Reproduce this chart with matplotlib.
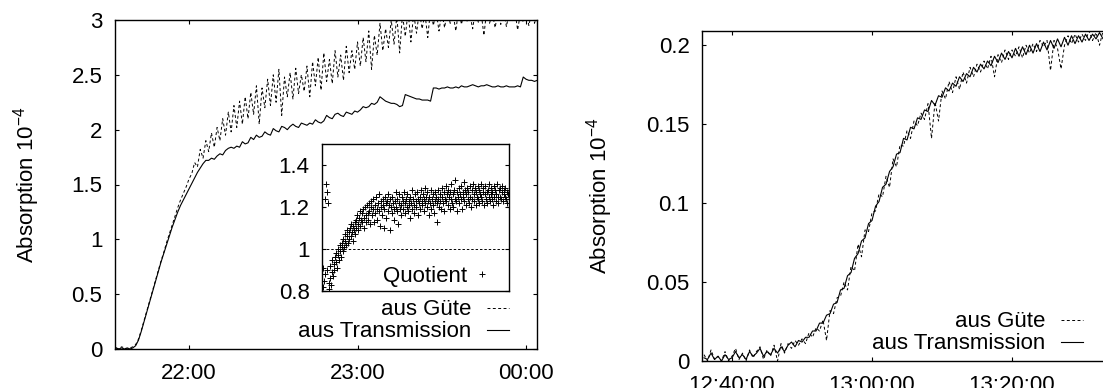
import numpy as np
import matplotlib.pyplot as plt
from matplotlib.ticker import FormatStrFormatter

plt.rcParams['font.family'] = ['Liberation Sans', 'DejaVu Sans']
plt.rcParams['font.size'] = 16
plt.rcParams['mathtext.fontset'] = 'custom'
plt.rcParams['mathtext.rm'] = 'Liberation Sans'
plt.rcParams['mathtext.it'] = 'Liberation Sans:italic'
plt.rcParams['mathtext.sf'] = 'Liberation Sans'
plt.rcParams['axes.linewidth'] = 1.0

# left plot: minutes after 21:00, one reading per minute (21:34 .. 00:04)
night_minutes = np.arange(34, 185)
night_guete = [
    0.01, 0.00, 0.02, 0.01, 0.00, 0.01, 0.02,
    0.04, 0.09, 0.17, 0.26, 0.35, 0.44, 0.53, 0.62, 0.71, 0.80,
    0.88, 0.97, 1.05, 1.13, 1.21, 1.29, 1.36, 1.42, 1.48, 1.55,
    1.60, 1.70, 1.66, 1.82, 1.74, 1.90, 1.80, 1.97, 1.84, 2.02,
    1.90, 2.10, 1.95, 2.16, 1.98, 2.22, 2.02, 2.26, 2.05, 2.30,
    2.10, 2.34, 2.14, 2.40, 2.05, 2.38, 2.20, 2.46, 2.22, 2.50,
    2.25, 2.55, 2.13, 2.48, 2.30, 2.52, 2.28, 2.56, 2.33, 2.50,
    2.35, 2.58, 2.30, 2.62, 2.40, 2.66, 2.36, 2.70, 2.44, 2.64,
    2.42, 2.72, 2.48, 2.68, 2.45, 2.76, 2.52, 2.72, 2.55, 2.80,
    2.58, 2.84, 2.62, 2.90, 2.55, 2.86, 2.68, 2.97, 2.72, 2.92,
    2.75, 3.00, 2.78, 3.04, 2.70, 3.05, 2.85, 3.08, 2.80, 3.06,
    2.88, 3.08, 2.92, 3.06, 2.84, 3.10, 2.95, 3.08, 2.90, 3.07,
    2.93, 3.09, 2.97, 3.06, 2.90, 3.10, 2.96, 3.08, 2.99, 3.05,
    2.92, 3.10, 2.98, 3.07, 2.86, 3.09, 2.97, 3.06, 2.93, 3.08,
    2.96, 3.10, 2.94, 3.07, 2.99, 3.09, 2.91, 3.06, 2.98, 3.08,
    2.95, 3.07, 2.97, 3.05,
]
night_trans = [
    0.01, 0.00, 0.01, 0.00, 0.01, 0.00, 0.01,
    0.03, 0.08, 0.16, 0.25, 0.34, 0.43, 0.52, 0.61, 0.70, 0.79,
    0.87, 0.95, 1.03, 1.11, 1.18, 1.25, 1.31, 1.36, 1.41, 1.46,
    1.51, 1.56, 1.61, 1.65, 1.69, 1.72, 1.72, 1.74, 1.73, 1.76,
    1.78, 1.77, 1.81, 1.83, 1.84, 1.83, 1.85, 1.84, 1.89, 1.87,
    1.88, 1.93, 1.91, 1.95, 1.93, 1.94, 1.98, 1.96, 1.95, 2.01,
    1.99, 1.98, 2.03, 2.02, 2.00, 2.03, 2.05, 2.03, 2.02, 2.06,
    2.05, 2.04, 2.06, 2.05, 2.09, 2.07, 2.06, 2.08, 2.13, 2.11,
    2.10, 2.14, 2.15, 2.13, 2.12, 2.16, 2.15, 2.14, 2.17, 2.16,
    2.18, 2.21, 2.20, 2.21, 2.24, 2.23, 2.25, 2.30, 2.28, 2.26,
    2.25, 2.24, 2.24, 2.23, 2.21, 2.22, 2.32, 2.31, 2.30, 2.29,
    2.28, 2.28, 2.27, 2.27, 2.27, 2.26, 2.38, 2.38, 2.37, 2.38,
    2.38, 2.39, 2.38, 2.38, 2.39, 2.38, 2.40, 2.39, 2.39, 2.40,
    2.41, 2.40, 2.39, 2.40, 2.40, 2.41, 2.40, 2.39, 2.39, 2.40,
    2.39, 2.39, 2.40, 2.39, 2.39, 2.39, 2.40, 2.39, 2.48, 2.46,
    2.45, 2.45, 2.44, 2.45,
]

# inset: quotient every 30 s from 21:41 to 00:04
quot_minutes = np.arange(41, 184.01, 0.5)
quotient = [
    0.82, 0.91, 0.85, 1.24, 0.88, 1.31, 1.27, 0.90, 1.22, 0.84,
    0.81, 0.86, 0.92, 0.83, 0.89, 0.95, 0.87, 0.93, 0.90, 0.96,
    0.94, 0.98, 0.91, 0.97, 1.00, 0.95, 0.99, 1.02, 0.96, 1.01,
    1.03, 0.99, 1.05, 1.01, 1.04, 1.07, 1.02, 1.06, 1.09, 1.03,
    1.08, 1.05, 1.10, 1.06, 1.12, 1.08, 1.04, 1.11, 1.09, 1.13,
    1.07, 1.14, 1.10, 1.16, 1.12, 1.09, 1.15, 1.18, 1.11, 1.14,
    1.17, 1.13, 1.19, 1.15, 1.10, 1.20, 1.16, 1.13, 1.21, 1.17,
    1.14, 1.22, 1.18, 1.12, 1.20, 1.23, 1.16, 1.19, 1.24, 1.13,
    1.21, 1.17, 1.25, 1.19, 1.14, 1.22, 1.26, 1.18, 1.11, 1.23,
    1.20, 1.16, 1.24, 1.21, 1.10, 1.19, 1.25, 1.22, 1.15, 1.23,
    1.18, 1.26, 1.21, 1.09, 1.24, 1.20, 1.17, 1.25, 1.22, 1.19,
    1.14, 1.23, 1.27, 1.20, 1.18, 1.24, 1.12, 1.22, 1.26, 1.19,
    1.21, 1.16, 1.25, 1.23, 1.19, 1.27, 1.22, 1.17, 1.24, 1.20,
    1.26, 1.18, 1.23, 1.21, 1.15, 1.25, 1.22, 1.28, 1.19, 1.24,
    1.21, 1.17, 1.26, 1.23, 1.20, 1.27, 1.16, 1.24, 1.22, 1.25,
    1.19, 1.28, 1.23, 1.21, 1.26, 1.18, 1.24, 1.29, 1.22, 1.25,
    1.20, 1.27, 1.23, 1.16, 1.25, 1.22, 1.28, 1.19, 1.24, 1.26,
    1.21, 1.17, 1.27, 1.23, 1.25, 1.13, 1.22, 1.28, 1.24, 1.20,
    1.26, 1.23, 1.19, 1.29, 1.25, 1.22, 1.27, 1.18, 1.24, 1.30,
    1.23, 1.26, 1.21, 1.28, 1.25, 1.19, 1.27, 1.24, 1.31, 1.22,
    1.26, 1.20, 1.28, 1.24, 1.33, 1.23, 1.27, 1.18, 1.25, 1.29,
    1.22, 1.26, 1.30, 1.24, 1.19, 1.27, 1.25, 1.32, 1.23, 1.28,
    1.21, 1.26, 1.29, 1.24, 1.27, 1.22, 1.30, 1.25, 1.20, 1.28,
    1.24, 1.31, 1.26, 1.23, 1.29, 1.21, 1.27, 1.25, 1.30, 1.24,
    1.28, 1.22, 1.26, 1.31, 1.25, 1.23, 1.29, 1.27, 1.21, 1.26,
    1.30, 1.24, 1.27, 1.22, 1.28, 1.25, 1.31, 1.23, 1.26, 1.29,
    1.24, 1.27, 1.21, 1.30, 1.25, 1.28, 1.23, 1.26, 1.31, 1.25,
    1.22, 1.28, 1.25, 1.29, 1.24, 1.27, 1.30, 1.23, 1.26, 1.28,
    1.25, 1.29, 1.24, 1.27, 1.22, 1.26, 1.28,
]

# right plot: minutes after 12:00, every 30 s (12:36 .. 13:34)
day_minutes = np.arange(36, 94.01, 0.5)
day_guete = [
    0.004, 0.000, 0.007, 0.001, 0.003, 0.000, 0.006, 0.000, 0.003, 0.008,
    0.001, 0.005, 0.000, 0.007, 0.002, 0.006, 0.009, 0.001, 0.007, 0.003,
    0.010, 0.000, 0.011, 0.005, 0.011, 0.008, 0.013, 0.010, 0.014, 0.011,
    0.018, 0.015, 0.021, 0.019, 0.026, 0.013, 0.032, 0.030, 0.040, 0.041,
    0.050, 0.045, 0.060, 0.057, 0.074, 0.066, 0.083, 0.082, 0.094, 0.095,
    0.106, 0.104, 0.117, 0.110, 0.128, 0.123, 0.137, 0.136, 0.146, 0.141,
    0.152, 0.149, 0.157, 0.153, 0.163, 0.141, 0.164, 0.152, 0.171, 0.166,
    0.177, 0.170, 0.180, 0.172, 0.183, 0.176, 0.186, 0.180, 0.188, 0.183,
    0.190, 0.185, 0.193, 0.180, 0.194, 0.189, 0.197, 0.191, 0.197, 0.193,
    0.199, 0.192, 0.200, 0.195, 0.201, 0.196, 0.203, 0.199, 0.203, 0.184,
    0.203, 0.198, 0.185, 0.200, 0.206, 0.201, 0.207, 0.202, 0.207, 0.203,
    0.209, 0.203, 0.208, 0.200, 0.209, 0.204, 0.209,
]
day_trans = [
    0.002, 0.001, 0.005, 0.001, 0.003, 0.000, 0.004, 0.001, 0.002, 0.006,
    0.002, 0.004, 0.001, 0.006, 0.003, 0.005, 0.008, 0.003, 0.006, 0.004,
    0.008, 0.005, 0.009, 0.006, 0.010, 0.012, 0.009, 0.013, 0.012, 0.015,
    0.015, 0.019, 0.019, 0.024, 0.024, 0.029, 0.030, 0.036, 0.037, 0.045,
    0.046, 0.054, 0.056, 0.065, 0.068, 0.076, 0.078, 0.087, 0.089, 0.098,
    0.101, 0.110, 0.112, 0.120, 0.123, 0.131, 0.132, 0.141, 0.140, 0.148,
    0.147, 0.154, 0.153, 0.159, 0.158, 0.165, 0.162, 0.168, 0.167, 0.173,
    0.171, 0.176, 0.174, 0.180, 0.177, 0.182, 0.180, 0.186, 0.183, 0.188,
    0.185, 0.190, 0.187, 0.193, 0.189, 0.195, 0.191, 0.196, 0.192, 0.198,
    0.193, 0.199, 0.194, 0.200, 0.195, 0.201, 0.196, 0.202, 0.197, 0.203,
    0.198, 0.204, 0.199, 0.205, 0.200, 0.206, 0.201, 0.206, 0.202, 0.207,
    0.203, 0.207, 0.204, 0.208, 0.204, 0.208, 0.205,
]

night_ticks = [60, 120, 180]
night_ticklabels = ['22:00', '23:00', '00:00']
day_ticks = [40, 60, 80]
day_ticklabels = ['12:40:00', '13:00:00', '13:20:00']

W, H = 1103, 388
fig = plt.figure(figsize=(W / 100, H / 100), dpi=100)


def box(x0, x1, y0, y1):
    # pixel box -> figure fraction
    return [x0 / W, 1 - y1 / H, (x1 - x0) / W, (y1 - y0) / H]


def style(ax):
    ax.tick_params(direction='in', length=3.2, width=0.8, top=True, right=True)
    ax.tick_params(axis='y', pad=9)
    ax.tick_params(axis='x', pad=10)
    ax.yaxis.set_major_formatter(FormatStrFormatter('%g'))


dash = (0, (3, 2.5))
leg_kw = dict(loc='lower right', frameon=False, markerfirst=False,
              handlelength=1.0, handletextpad=0.7, labelspacing=0.05,
              borderpad=0, borderaxespad=0)

# ---- left panel
ax1 = fig.add_axes(box(115, 537, 20, 349))
ax1.plot(night_minutes, night_guete, color='black', lw=0.7, ls=dash, label='aus Güte')
ax1.plot(night_minutes, night_trans, color='black', lw=0.8, label='aus Transmission')
ax1.set_xlim(33.65, 183.9)
ax1.set_ylim(0, 3)
ax1.set_xticks(night_ticks)
ax1.set_xticklabels(night_ticklabels)
ax1.set_yticks([0, 0.5, 1, 1.5, 2, 2.5, 3])
style(ax1)
ax1.legend(bbox_to_anchor=(0.934, 0.02), **leg_kw)

# inset with the quotient
axi = fig.add_axes(box(322, 509, 144, 291))
axi.plot(quot_minutes, quotient, ls='none', marker='+', ms=5, mew=0.7,
         color='black', label='Quotient')
axi.axhline(1, color='black', lw=0.7, ls=(0, (2.5, 2)))
axi.set_xlim(40.5, 184.2)
axi.set_ylim(0.8, 1.5)
axi.set_yticks([0.8, 1, 1.2, 1.4])
style(axi)
axi.tick_params(axis='x', bottom=False, top=False, labelbottom=False)
axi.legend(loc='lower right', bbox_to_anchor=(0.914, 0.03), frameon=False,
           markerfirst=False, handlelength=1.0, handletextpad=0.15,
           borderpad=0, borderaxespad=0)

# ---- right panel (runs past the right edge of the picture)
ax2 = fig.add_axes(box(702, 1111, 31, 361))
ax2.plot(day_minutes, day_guete, color='black', lw=0.7, ls=dash, label='aus Güte')
ax2.plot(day_minutes, day_trans, color='black', lw=0.8, label='aus Transmission')
ax2.set_xlim(35.71, 94.14)
ax2.set_ylim(0, 0.209)
ax2.set_xticks(day_ticks)
ax2.set_xticklabels(day_ticklabels)
ax2.set_yticks([0, 0.05, 0.1, 0.15, 0.2])
style(ax2)
ax2.legend(bbox_to_anchor=(0.9315, 0.02), **leg_kw)

ylabel = r'Absorption $10^{-4}$'
fig.text(27 / W, 1 - 184.5 / H, ylabel, rotation=90, ha='center', va='center')
fig.text(600 / W, 1 - 196 / H, ylabel, rotation=90, ha='center', va='center')

fig.savefig('out.png', dpi=100)
